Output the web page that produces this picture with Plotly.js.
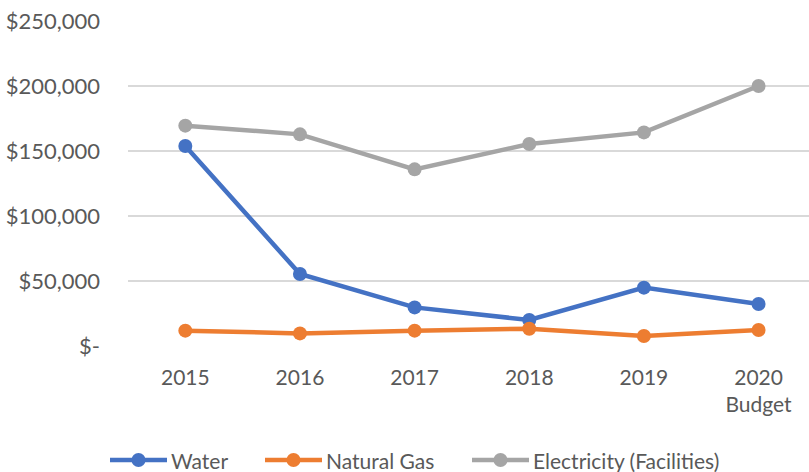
<!DOCTYPE html>
<html>
<head>
<meta charset="utf-8">
<script src="https://cdn.plot.ly/plotly-3.0.1.min.js"></script>
<style>html,body{margin:0;padding:0;background:#fff;}#chart{width:809px;height:472px;}</style>
</head>
<body>
<div id="chart"></div>
<script>
const categories = ["2015", "2016", "2017", "2018", "2019", "2020<br>Budget"];
const water = [153800, 55400, 29700, 20000, 44900, 32300];
const naturalGas = [11800, 9700, 11800, 13300, 7700, 12300];
const electricity = [169500, 162800, 135900, 155400, 164300, 200000];
const seriesNames = ["Water", "Natural Gas", "Electricity (Facilities)"];
const seriesColors = ["#4472C4", "#ED7D31", "#A5A5A5"];
const yTickVals = [0, 50000, 100000, 150000, 200000, 250000];
const yTickText = ["$-", "$50,000", "$100,000", "$150,000", "$200,000", "$250,000"];

const font = "Lato, 'Open Sans', 'Noto Sans', sans-serif";
const W = 809, H = 472, ML = 128, MR = 0, MT = 21, MB = 126;
const PW = W - ML - MR, PH = H - MT - MB;
const px2x = p => (p - ML) / PW;
const py2y = p => (H - MB - p) / PH;

function tr(name, y, color) {
  return {
    type: "scatter", mode: "lines+markers", name: name,
    x: categories, y: y,
    line: {color: color, width: 4.5},
    marker: {color: color, size: 14},
    showlegend: false
  };
}
const data = [
  tr(seriesNames[0], water, seriesColors[0]),
  tr(seriesNames[1], naturalGas, seriesColors[1]),
  tr(seriesNames[2], electricity, seriesColors[2])
];

// custom legend (Excel style: long line symbol with marker)
const legendStarts = [110, 265, 472];
const legendY = 460;
const shapes = [], annotations = [];
seriesNames.forEach((n, i) => {
  const x0 = legendStarts[i], x1 = x0 + 57, xm = (x0 + x1) / 2;
  shapes.push({type: "line", xref: "paper", yref: "paper",
    x0: px2x(x0), x1: px2x(x1), y0: py2y(legendY), y1: py2y(legendY),
    line: {color: seriesColors[i], width: 4.5}});
  shapes.push({type: "circle", xref: "paper", yref: "paper",
    x0: px2x(xm - 7), x1: px2x(xm + 7), y0: py2y(legendY + 7), y1: py2y(legendY - 7),
    fillcolor: seriesColors[i], line: {width: 0}});
  annotations.push({xref: "paper", yref: "paper", x: px2x(x1 + 2), y: py2y(legendY),
    xanchor: "left", yanchor: "middle", showarrow: false, text: n,
    font: {size: 21, color: "#595959", family: font}});
});

const layout = {
  width: W, height: H,
  margin: {l: ML, r: MR, t: MT, b: MB, autoexpand: false},
  paper_bgcolor: "#fff", plot_bgcolor: "#fff",
  font: {family: font, color: "#595959", size: 21},
  showlegend: false,
  shapes: shapes, annotations: annotations,
  xaxis: {type: "category", range: [-0.5, 5.44], showgrid: false, zeroline: false,
          showline: false, ticks: "", tickfont: {size: 21, color: "#595959"},
          ticklabelstandoff: 17},
  yaxis: {range: [0, 250000], tickvals: yTickVals, ticktext: yTickText,
          showgrid: true, gridcolor: "#D9D9D9", gridwidth: 1.3, zeroline: false,
          showline: false, ticks: "", tickfont: {size: 22, color: "#595959"},
          ticklabelstandoff: 27}
};
Plotly.newPlot("chart", data, layout, {displayModeBar: false, staticPlot: true});
</script>
</body>
</html>
